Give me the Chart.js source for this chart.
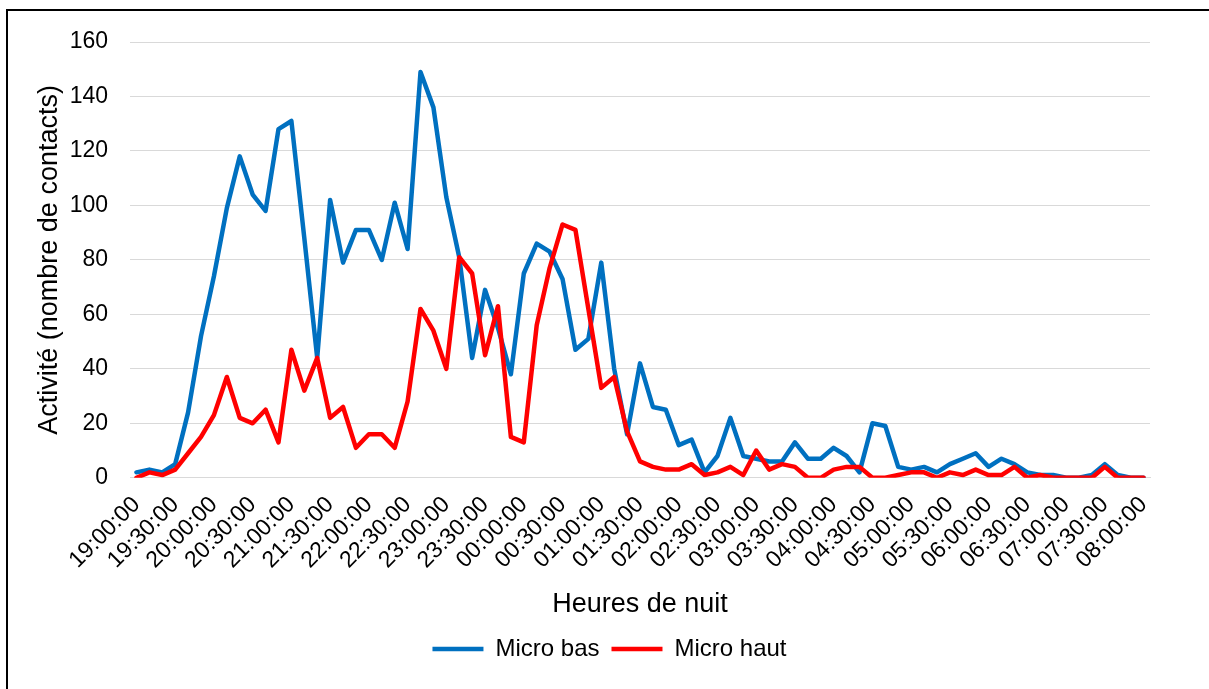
<!DOCTYPE html>
<html lang="fr">
<head>
    <meta charset="UTF-8">
    <title>Activité nocturne - Micro bas / Micro haut</title>
    <script src="https://cdn.jsdelivr.net/npm/chart.js"></script>
    <style>
        html, body { margin: 0; padding: 0; background: #fff; overflow: hidden; }
        #frame { position: absolute; left: 6px; top: 9px; width: 1300px; height: 800px; border: 2px solid #000; }
        .chart-container { position: absolute; left: 0; top: 0; width: 1209px; height: 689px; }
    </style>
</head>
<body>

<div id="frame"></div>
<div class="chart-container">
    <canvas id="activityChart"></canvas>
</div>

<script>
    // Créneaux de 10 minutes, de 19:00 à 08:00
    const heures = [
        '19:00:00', '19:10:00', '19:20:00', '19:30:00', '19:40:00', '19:50:00',
        '20:00:00', '20:10:00', '20:20:00', '20:30:00', '20:40:00', '20:50:00',
        '21:00:00', '21:10:00', '21:20:00', '21:30:00', '21:40:00', '21:50:00',
        '22:00:00', '22:10:00', '22:20:00', '22:30:00', '22:40:00', '22:50:00',
        '23:00:00', '23:10:00', '23:20:00', '23:30:00', '23:40:00', '23:50:00',
        '00:00:00', '00:10:00', '00:20:00', '00:30:00', '00:40:00', '00:50:00',
        '01:00:00', '01:10:00', '01:20:00', '01:30:00', '01:40:00', '01:50:00',
        '02:00:00', '02:10:00', '02:20:00', '02:30:00', '02:40:00', '02:50:00',
        '03:00:00', '03:10:00', '03:20:00', '03:30:00', '03:40:00', '03:50:00',
        '04:00:00', '04:10:00', '04:20:00', '04:30:00', '04:40:00', '04:50:00',
        '05:00:00', '05:10:00', '05:20:00', '05:30:00', '05:40:00', '05:50:00',
        '06:00:00', '06:10:00', '06:20:00', '06:30:00', '06:40:00', '06:50:00',
        '07:00:00', '07:10:00', '07:20:00', '07:30:00', '07:40:00', '07:50:00',
        '08:00:00'
    ];

    // Nombre de contacts par créneau
    const microBas = [
        2, 3, 2, 5, 24, 52, 74, 99, 118, 104, 98, 128,
        131, 88, 44, 102, 79, 91, 91, 80, 101, 84, 149, 136,
        103, 81, 44, 69, 55, 38, 75, 86, 83, 73, 47, 51,
        79, 40, 16, 42, 26, 25, 12, 14, 2, 8, 22, 8,
        7, 6, 6, 13, 7, 7, 11, 8, 2, 20, 19, 4,
        3, 4, 2, 5, 7, 9, 4, 7, 5, 2, 1, 1,
        0, 0, 1, 5, 1, 0, 0
    ];
    const microHaut = [
        0, 2, 1, 3, 9, 15, 23, 37, 22, 20, 25, 13,
        47, 32, 44, 22, 26, 11, 16, 16, 11, 28, 62, 54,
        40, 81, 75, 45, 63, 15, 13, 56, 77, 93, 91, 62,
        33, 37, 17, 6, 4, 3, 3, 5, 1, 2, 4, 1,
        10, 3, 5, 4, 0, 0, 3, 4, 4, 0, 0, 1,
        2, 2, 0, 2, 1, 3, 1, 1, 4, 0, 1, 0,
        0, 0, 0, 4, 0, 0, 0
    ];

    const police = 'Liberation Sans, Arial, sans-serif';

    // légende légèrement décalée vers la droite
    const decalageLegende = {
        id: 'decalageLegende',
        afterLayout(chart) {
            chart.legend.left += 18;
            chart.legend.right += 18;
        }
    };

    new Chart(document.getElementById('activityChart'), {
        type: 'line',
        data: {
            labels: heures,
            datasets: [
                {
                    label: 'Micro bas',
                    data: microBas,
                    borderColor: '#0070C0',
                    backgroundColor: '#0070C0',
                    borderWidth: 4.5,
                    borderJoinStyle: 'round',
                    borderCapStyle: 'round',
                    pointRadius: 0,
                    tension: 0,
                    order: 1
                },
                {
                    label: 'Micro haut',
                    data: microHaut,
                    borderColor: '#FF0000',
                    backgroundColor: '#FF0000',
                    borderWidth: 4.5,
                    borderJoinStyle: 'round',
                    borderCapStyle: 'round',
                    pointRadius: 0,
                    tension: 0,
                    order: 0   // rouge dessiné par-dessus le bleu
                }
            ]
        },
        plugins: [decalageLegende],
        options: {
            responsive: true,
            maintainAspectRatio: false,
            animation: false,
            layout: { padding: { left: 33, right: 59, top: 42, bottom: 18 } },
            plugins: {
                tooltip: { enabled: false },
                legend: {
                    position: 'bottom',
                    labels: {
                        color: '#000',
                        font: { family: police, size: 24 },
                        usePointStyle: true,
                        pointStyle: 'line',
                        pointStyleWidth: 51,
                        boxHeight: 4,
                        padding: 12,
                        sort: (a, b) => a.datasetIndex - b.datasetIndex
                    }
                }
            },
            scales: {
                x: {
                    offset: true,
                    grid: { display: false, drawTicks: false },
                    border: { color: '#d9d9d9' },
                    ticks: {
                        autoSkip: false,
                        maxRotation: 45,
                        minRotation: 45,
                        padding: 13.5,
                        color: '#000',
                        font: { family: police, size: 23 },
                        callback: function (value, index) {
                            return index % 3 === 0 ? this.getLabelForValue(value) : '';
                        }
                    },
                    title: {
                        display: true,
                        text: 'Heures de nuit',
                        color: '#000',
                        font: { family: police, size: 27 },
                        padding: { top: 1, bottom: 4 }
                    },
                    // les étiquettes inclinées débordent à gauche sans pousser la zone de tracé
                    afterFit: (scale) => {
                        scale.paddingLeft = 0;
                        scale.paddingRight = 0;
                    }
                },
                y: {
                    min: 0,
                    max: 160,
                    ticks: {
                        stepSize: 20,
                        padding: 22,
                        color: '#000',
                        font: { family: police, size: 23 }
                    },
                    grid: { color: '#d9d9d9', lineWidth: 1, drawTicks: false },
                    border: { display: false },
                    title: {
                        display: true,
                        text: 'Activité (nombre de contacts)',
                        color: '#000',
                        font: { family: police, size: 27 },
                        padding: { top: 0, bottom: 0 }
                    },
                    // largeur fixe : titre, graduations puis zone de tracé à x = 130
                    afterFit: (scale) => {
                        scale.width = 97;
                    }
                }
            }
        }
    });
</script>

</body>
</html>
